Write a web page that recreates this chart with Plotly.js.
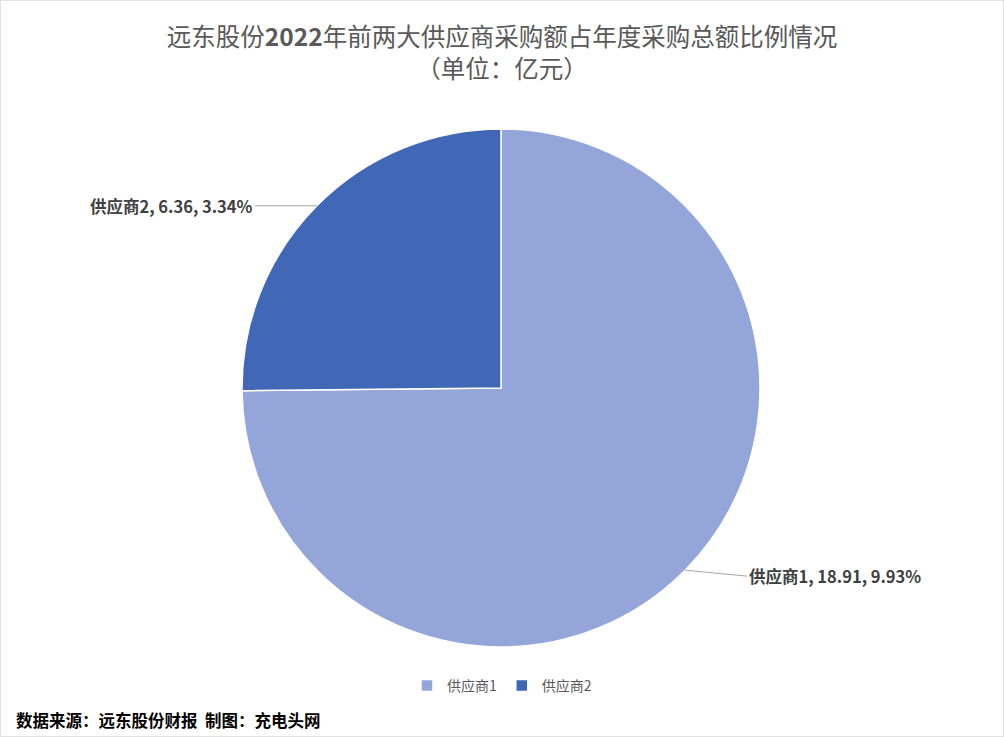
<!DOCTYPE html>
<html>
<head>
<meta charset="utf-8">
<script src="https://cdn.plot.ly/plotly-3.0.1.min.js"></script>
<style>
  html, body { margin: 0; padding: 0; background: #fff; }
  #graph { width: 1004px; height: 737px; }
</style>
</head>
<body>
<div id="graph"></div>
<script>
var labels = ['供应商1', '供应商2'];
var values = [18.91, 6.36];
var ratios = ['9.93%', '3.34%'];
var colors = ['#94A5DA', '#4068B6'];

var W = 1004, H = 737;
// pie centre and radius in pixels
var cx = 501, cy = 388, R = 259;

var total = values.reduce(function (a, b) { return a + b; }, 0);

// label offsets (pixels) for the leader lines
var offsets = [[62, 6], [-62, 0]];

var annotations = [];
var cum = 0;
for (let i = 0; i < values.length; i++) {
  var mid = (cum + values[i] / 2) / total * 2 * Math.PI;
  cum += values[i];
  var px = cx + R * Math.sin(mid);
  var py = cy - R * Math.cos(mid);
  annotations.push({
    x: px / W, y: 1 - py / H, xref: 'paper', yref: 'paper',
    text: '<b>' + labels[i] + ', ' + values[i].toFixed(2) + ', ' + ratios[i] + '</b>',
    showarrow: true, arrowhead: 0, arrowwidth: 1, arrowcolor: '#A6A6A6',
    ax: offsets[i][0], ay: offsets[i][1],
    xanchor: offsets[i][0] > 0 ? 'left' : 'right',
    font: { size: 16.5, color: '#404040' }
  });
}

// source note
annotations.push({
  x: 14 / W, y: 1 - 720 / H, xref: 'paper', yref: 'paper', showarrow: false,
  xanchor: 'left', yanchor: 'middle',
  text: '<b>数据来源：远东股份财报  制图：充电头网</b>',
  font: { size: 16.5, color: '#000000' }
});

var trace = {
  type: 'pie',
  labels: labels,
  values: values,
  sort: false,
  direction: 'clockwise',
  rotation: 0,
  textinfo: 'none',
  hoverinfo: 'label+value',
  marker: { colors: colors, line: { color: '#ffffff', width: 1.5 } },
  domain: { x: [(cx - R) / W, (cx + R) / W], y: [1 - (cy + R) / H, 1 - (cy - R) / H] }
};

var layout = {
  width: W, height: H,
  margin: { l: 0, r: 0, t: 0, b: 0 },
  font: { family: '"Noto Sans CJK SC", "Noto Sans", sans-serif' },
  paper_bgcolor: '#ffffff',
  title: {
    text: '远东股份<b>2022</b>年前两大供应商采购额占年度采购总额比例情况<br>（单位：亿元）',
    x: 0.5, xanchor: 'center', y: 1 - 46 / H, yanchor: 'middle', yref: 'container',
    font: { size: 24.5, color: '#595959' }
  },
  showlegend: true,
  legend: {
    orientation: 'h', x: 0.5, xanchor: 'center', y: 1 - 686 / H, yanchor: 'middle',
    font: { size: 14, color: '#595959' }, itemwidth: 30
  },
  annotations: annotations,
  shapes: [{
    type: 'rect', xref: 'paper', yref: 'paper', x0: 0, y0: 0, x1: 1, y1: 1,
    line: { color: '#D9D9D9', width: 1.5 }
  }]
};

Plotly.newPlot('graph', [trace], layout, { staticPlot: true });
</script>
</body>
</html>
